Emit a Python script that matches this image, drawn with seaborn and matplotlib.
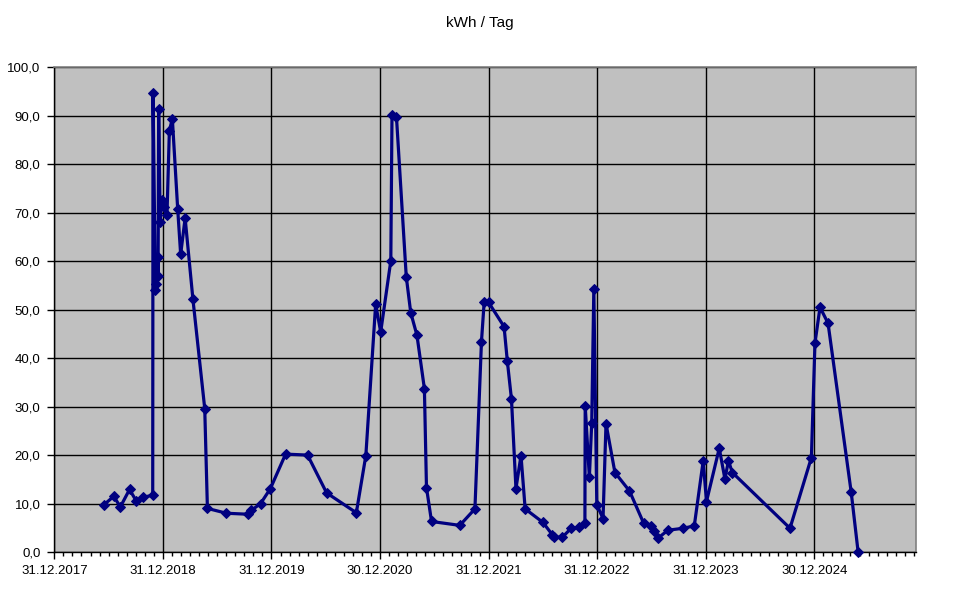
import datetime as dt
import numpy as np
import pandas as pd
import matplotlib
matplotlib.use("Agg")
import matplotlib.pyplot as plt
import seaborn as sns

# ---- data -------------------------------------------------------------
start_date = dt.date(2017, 12, 31)          # left end of the x axis
# days elapsed since start_date for each reading
day_offsets = [168, 200, 222, 253, 275, 297, 331, 332, 340, 341,
               348, 349, 351, 356, 361, 369, 379, 387, 397, 415,
               425, 440, 466, 506, 515, 579, 650, 663, 694, 727,
               778, 852, 916, 1016, 1048, 1081, 1098, 1132, 1136, 1151,
               1184, 1199, 1220, 1245, 1252, 1269, 1364, 1415, 1437, 1446,
               1461, 1513, 1524, 1538, 1553, 1570, 1584, 1644, 1675, 1680,
               1708, 1739, 1765, 1785, 1786, 1800, 1808, 1815, 1825, 1846,
               1856, 1886, 1935, 1983, 2007, 2018, 2030, 2064, 2116, 2153,
               2183, 2194, 2237, 2256, 2268, 2281, 2475, 2547, 2559, 2576,
               2603, 2681, 2704]
kwh_per_day = [9.8, 11.5, 9.3, 12.9, 10.6, 11.3, 11.7, 94.8, 54.0, 55.3,
               60.8, 56.9, 91.3, 68.1, 72.7, 71.2, 69.6, 86.9, 89.4, 70.8,
               61.4, 68.9, 52.3, 29.6, 9.0, 8.0, 7.8, 8.6, 10.0, 13.1,
               20.2, 20.0, 12.2, 8.1, 19.9, 51.1, 45.4, 60.1, 90.1, 89.8,
               56.8, 49.4, 44.7, 33.7, 13.3, 6.3, 5.5, 8.9, 43.4, 51.5,
               51.5, 46.5, 39.4, 31.5, 13.1, 19.9, 8.9, 6.1, 3.6, 3.2,
               3.0, 4.9, 5.1, 6.0, 30.2, 15.4, 26.7, 54.2, 9.8, 6.9,
               26.5, 16.4, 12.6, 5.9, 5.4, 4.4, 2.8, 4.5, 4.9, 5.4,
               18.8, 10.4, 21.4, 15.1, 18.8, 16.4, 4.9, 19.5, 43.1, 50.5,
               47.2, 12.3, 0.1]

title = "kWh / Tag"
y_ticks = list(range(0, 101, 10))
year_len = 365.25
x_max = 2900

df = pd.DataFrame({"day": day_offsets, "value": kwh_per_day})

# ---- figure -----------------------------------------------------------
sns.set_style("white")
plt.rcParams["font.family"] = ["Liberation Sans", "DejaVu Sans"]

fig = plt.figure(figsize=(9.6, 5.93), dpi=100)
ax = fig.add_axes([0.0566, 0.0691, 0.8979, 0.8174])
ax.set_facecolor("#C0C0C0")

sns.lineplot(data=df, x="day", y="value", ax=ax, sort=False, estimator=None,
             color="#000080", linewidth=2.3, marker="D", markersize=5.2,
             markeredgecolor="#000080", clip_on=False, zorder=3)

ax.set_xlim(0, x_max)
ax.set_ylim(0, 100)

# y axis
ax.set_yticks(y_ticks)
ax.set_yticklabels([f"{v:.1f}".replace(".", ",") for v in y_ticks])

# x axis: major ticks every 365.25 days, minor monthly
major = [i * year_len for i in range(0, int(x_max // year_len) + 1)]
labels = [(start_date + dt.timedelta(days=int(np.floor(m)))).strftime("%d.%m.%Y")
          for m in major]
ax.set_xticks(major)
ax.set_xticklabels(labels)
minor = np.arange(0, x_max + 1, year_len / 12)
ax.set_xticks(minor, minor=True)

ax.grid(True, axis="both", which="major", color="black", linewidth=1)
ax.set_axisbelow(True)

ax.tick_params(axis="both", which="major", direction="out", length=5,
               width=1, color="black", labelsize=9.5, labelcolor="black",
               left=True, bottom=True)
ax.tick_params(axis="x", which="major", pad=4)
ax.tick_params(axis="y", which="major", pad=5)
ax.tick_params(axis="x", which="minor", direction="out", length=3,
               width=1, color="black", bottom=True)
ax.set_xlabel("")
ax.set_ylabel("")

for side in ("left", "bottom"):
    ax.spines[side].set_color("black")
    ax.spines[side].set_linewidth(1)
for side in ("top", "right"):
    ax.spines[side].set_color("#808080")
    ax.spines[side].set_linewidth(1.2)

fig.text(0.5, 1 - 23 / 593, title, ha="center", va="center", fontsize=11,
         color="black")

fig.savefig("out.png", dpi=100, facecolor="white")
